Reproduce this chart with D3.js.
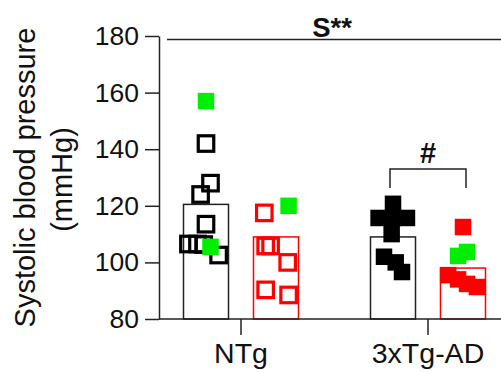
<!DOCTYPE html>
<html>
<head>
<meta charset="utf-8">
<script src="https://cdn.jsdelivr.net/npm/d3@7"></script>
<style>
  body { margin: 0; background: #fff; }
  text { font-family: "Liberation Sans", Arial, sans-serif; }
</style>
</head>
<body>
<svg id="chart" width="501" height="372"></svg>
<script>
// groups on the x axis, two bars per group
const groups = ["NTg", "3xTg-AD"];
const series = ["black", "red"];
const yTicks = [80, 100, 120, 140, 160, 180];

// bar heights (mean, mmHg) per group
const meansBlack = [120.5, 109];
const meansRed = [109, 98];

// individual points: [value, horizontal jitter as fraction of bar width]
const ntgBlack = [[142, 0], [128, 0.1], [124, -0.12], [113.5, 0], [106.5, -0.39], [106.5, -0.19], [106.3, -0.05], [102.6, 0.28]];
const ntgBlackGreen = [[157, 0], [105.5, 0.1]];
const ntgRed = [[117.5, -0.26], [105.8, -0.12], [105.8, -0.23], [100, 0.26], [90.3, -0.23], [88.5, 0.28]];
const ntgRedGreen = [[120, 0.28]];
const tgBlack = [[120.7, 0], [115.7, -0.32], [115.7, 0], [115.7, 0.31], [110, -0.03], [102, -0.2], [100, 0.06], [96.6, 0.2]];
const tgBlackGreen = [];
const tgRed = [[112.5, 0], [95.5, -0.33], [94, -0.11], [92.4, 0.09], [91.3, 0.31]];
const tgRedGreen = [[103.7, 0.09], [102.3, -0.11]];

const colors = { black: "#000000", red: "#ff0000", green: "#00ee00" };

const svg = d3.select("#chart");
const margin = { top: 36, bottom: 53, left: 159 };
const height = 372;

const y = d3.scaleLinear().domain([80, 180]).range([height - margin.bottom, margin.top]);

const x = d3.scaleBand().domain(groups).range([147.5, 521.5]).padding(0);
const xSub = d3.scaleBand().domain(series).range([-57.5, 57.5]).paddingInner(0.357);
const bw = xSub.bandwidth();

function barCenter(g, s) {
  return x(g) + x.bandwidth() / 2 + xSub(s) + bw / 2;
}

// bars
const bars = [];
groups.forEach((g, i) => {
  bars.push({ g: g, s: "black", v: meansBlack[i] });
  bars.push({ g: g, s: "red", v: meansRed[i] });
});

svg.append("g").selectAll("rect")
  .data(bars)
  .enter().append("rect")
  .attr("x", d => barCenter(d.g, d.s) - bw / 2)
  .attr("y", d => y(d.v))
  .attr("width", bw)
  .attr("height", d => y(80) - y(d.v))
  .attr("fill", "white")
  .attr("stroke", d => d.s == "red" ? colors.red : "#222")
  .attr("stroke-width", 1.5);

// points
const pointSets = [
  { g: "NTg", s: "black", pts: ntgBlack, color: colors.black, hollow: true },
  { g: "NTg", s: "black", pts: ntgBlackGreen, color: colors.green, hollow: false },
  { g: "NTg", s: "red", pts: ntgRed, color: colors.red, hollow: true },
  { g: "NTg", s: "red", pts: ntgRedGreen, color: colors.green, hollow: false },
  { g: "3xTg-AD", s: "black", pts: tgBlack, color: colors.black, hollow: false },
  { g: "3xTg-AD", s: "black", pts: tgBlackGreen, color: colors.green, hollow: false },
  { g: "3xTg-AD", s: "red", pts: tgRed, color: colors.red, hollow: false },
  { g: "3xTg-AD", s: "red", pts: tgRedGreen, color: colors.green, hollow: false }
];

const filledSize = 16.5, hollowSize = 15.5;
pointSets.forEach(set => {
  const cx = barCenter(set.g, set.s);
  const s = set.hollow ? hollowSize : filledSize;
  svg.append("g").selectAll("rect")
    .data(set.pts)
    .enter().append("rect")
    .attr("x", d => cx + d[1] * bw - s / 2)
    .attr("y", d => y(d[0]) - s / 2)
    .attr("width", s)
    .attr("height", s)
    .attr("fill", set.hollow ? "none" : set.color)
    .attr("stroke", set.hollow ? set.color : "none")
    .attr("stroke-width", 3.2);
});

// y axis
const yAxis = svg.append("g")
  .attr("transform", "translate(" + margin.left + ",0)")
  .call(d3.axisLeft(y).tickValues(yTicks).tickSize(14).tickPadding(6).tickSizeOuter(0));
yAxis.select(".domain").attr("stroke", "#222").attr("stroke-width", 1.5);
yAxis.selectAll(".tick line").attr("stroke", "#222").attr("stroke-width", 1.5);
yAxis.selectAll("text").attr("font-size", 26.5).attr("fill", "#111")
  .attr("font-family", "Liberation Sans, Arial, sans-serif");

// x axis
svg.append("line")
  .attr("x1", margin.left).attr("x2", 501)
  .attr("y1", y(80)).attr("y2", y(80))
  .attr("stroke", "#222").attr("stroke-width", 1.5);

const xAxis = svg.append("g");
groups.forEach(g => {
  const cx = x(g) + x.bandwidth() / 2;
  xAxis.append("line")
    .attr("x1", cx).attr("x2", cx)
    .attr("y1", y(80)).attr("y2", y(80) + 16)
    .attr("stroke", "#222").attr("stroke-width", 1.5);
  xAxis.append("text")
    .attr("x", cx).attr("y", y(80) + 44)
    .attr("text-anchor", "middle")
    .attr("font-size", 28.5)
    .attr("fill", "#111")
    .text(g);
});

// y axis title
const midY = (y(80) + y(180)) / 2;
svg.append("text")
  .attr("transform", "translate(35," + midY + ") rotate(-90)")
  .attr("text-anchor", "middle")
  .attr("font-size", 29)
  .attr("fill", "#111")
  .text("Systolic blood pressure");
svg.append("text")
  .attr("transform", "translate(72," + (midY + 2) + ") rotate(-90)")
  .attr("text-anchor", "middle")
  .attr("font-size", 29)
  .attr("fill", "#111")
  .text("(mmHg)");

// significance: S** line across the top
svg.append("line")
  .attr("x1", 167).attr("x2", 501)
  .attr("y1", 39.5).attr("y2", 39.5)
  .attr("stroke", "#222").attr("stroke-width", 1.5);
svg.append("text")
  .attr("x", 332).attr("y", 37)
  .attr("text-anchor", "middle")
  .attr("font-size", 27.5)
  .attr("font-weight", "bold")
  .attr("fill", "#111")
  .text("S**");

// # bracket between 3xTg-AD bars
const bx1 = barCenter("3xTg-AD", "black") - 3;
const bx2 = barCenter("3xTg-AD", "red") + 3;
svg.append("path")
  .attr("d", "M" + bx1 + "," + 188 + "V169H" + bx2 + "V188")
  .attr("fill", "none")
  .attr("stroke", "#222")
  .attr("stroke-width", 1.5);
svg.append("text")
  .attr("x", (bx1 + bx2) / 2).attr("y", 163)
  .attr("text-anchor", "middle")
  .attr("font-size", 29)
  .attr("font-weight", "bold")
  .attr("fill", "#111")
  .text("#");
</script>
</body>
</html>
